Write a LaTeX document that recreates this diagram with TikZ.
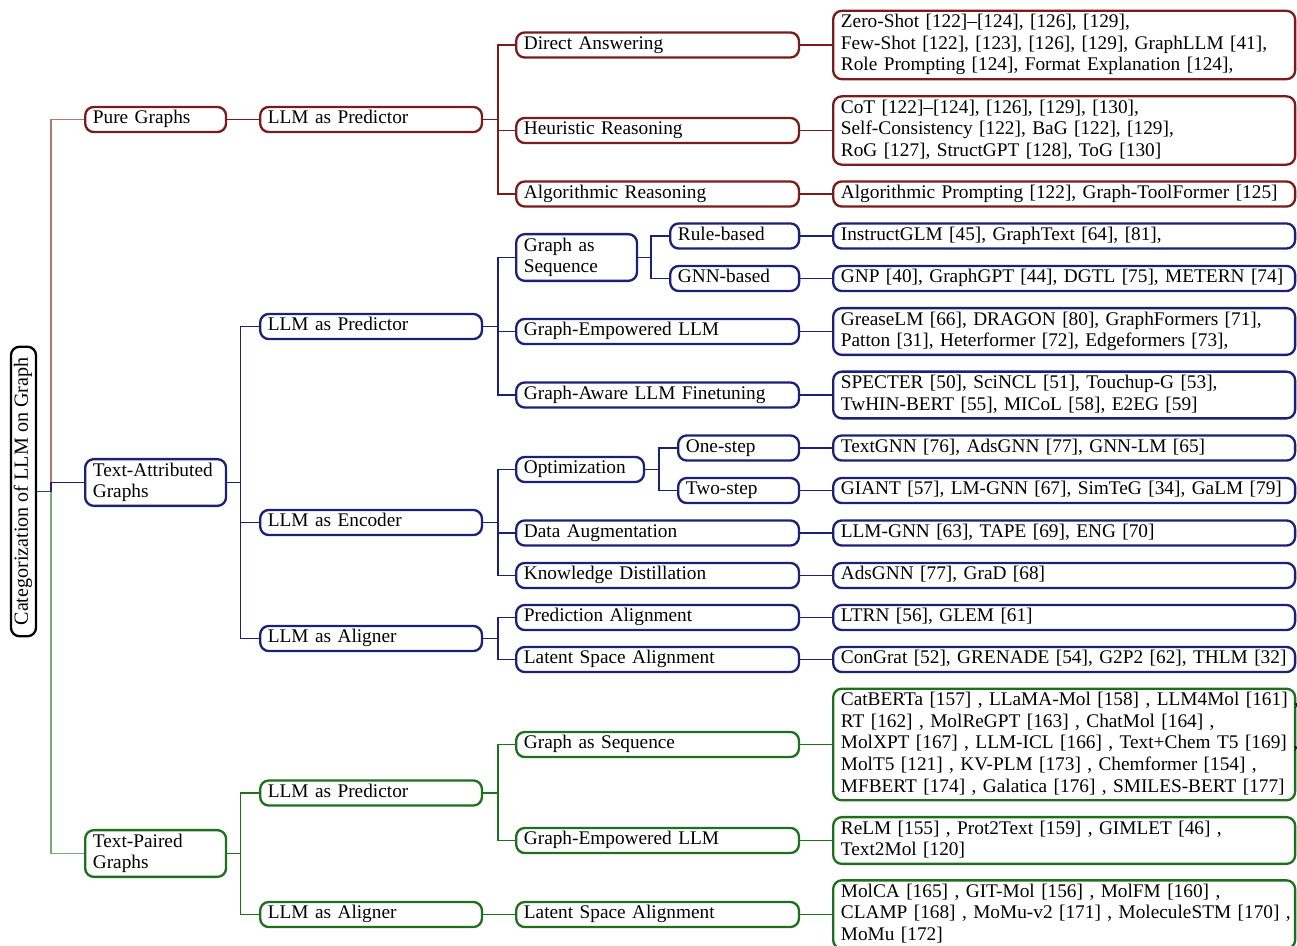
\documentclass[tikz,border=0pt]{standalone}
\usepackage{fontspec}
\setmainfont{Liberation Serif}
\usepackage{xcolor}
\definecolor{cR}{RGB}{122,28,28}
\definecolor{cB}{RGB}{28,32,118}
\definecolor{cG}{RGB}{30,112,30}
\newcommand{\lineX}[1]{\mbox{#1}}
\begin{document}
\begin{tikzpicture}[x=0.518pt, y=-0.518pt,
  bx/.style={draw=#1, rounded corners=4.5pt, line width=1.2pt, anchor=west, align=left,
    inner xsep=4pt, inner ysep=0.9pt, font=\fontsize{10}{11.2}\selectfont,
    execute at begin node=\strut, execute at end node=\strut, fill=white},
  wA/.style={text width=65pt},
  wB/.style={text width=106.9pt},
  wC/.style={text width=138.5pt},
  wGS/.style={text width=54.6pt},
  wOpt/.style={text width=58.2pt},
  wRB/.style={text width=58.8pt},
  wOS/.style={text width=54.6pt},
  wL/.style={text width=231.3pt},
  e/.style={draw=#1, line width=0.75pt},
  el/.style={draw=#1, line width=0.75pt, draw opacity=0.6}]
\useasboundingbox (0,0) rectangle (1297,946);

% root
\node[draw=black, rounded corners=4.5pt, line width=1.2pt, rotate=90, minimum width=150pt,
  minimum height=13pt, inner sep=0.9pt, font=\fontsize{10.4}{11.2}\selectfont] (root) at (23.5,491.5) {\strut Categorization of LLM on Graph};

% level 1
\node[bx=cR, wA] (pg) at (84,119.5) {Pure Graphs};
\node[bx=cB, wA] (tag) at (84,482.5) {\lineX{Text-Attributed}\\Graphs};
\node[bx=cG, wA] (tpg) at (84,853.5) {\lineX{Text-Paired}\\Graphs};

% level 2
\node[bx=cR, wB] (p1) at (259,119.5) {LLM as Predictor};
\node[bx=cB, wB] (p2) at (259,326.5) {LLM as Predictor};
\node[bx=cB, wB] (enc) at (259,522.5) {LLM as Encoder};
\node[bx=cB, wB] (al1) at (259,638.5) {LLM as Aligner};
\node[bx=cG, wB] (p3) at (259,793) {LLM as Predictor};
\node[bx=cG, wB] (al2) at (259,914.5) {LLM as Aligner};

% level 3
\node[bx=cR, wC] (da) at (515,45) {Direct Answering};
\node[bx=cR, wC] (hr) at (515,130.5) {Heuristic Reasoning};
\node[bx=cR, wC] (ar) at (515,194) {Algorithmic Reasoning};
\node[bx=cB, wGS] (gas1) at (515,257.5) {\lineX{Graph as}\\\lineX{Sequence}};
\node[bx=cB, wC] (ge1) at (515,331.5) {Graph-Empowered LLM};
\node[bx=cB, wC] (ga) at (515,395) {\lineX{Graph-Aware LLM Finetuning}};
\node[bx=cB, wOpt] (opt) at (515,469.5) {\lineX{Optimization}};
\node[bx=cB, wC] (dau) at (515,533) {Data Augmentation};
\node[bx=cB, wC] (kd) at (515,575.5) {Knowledge Distillation};
\node[bx=cB, wC] (pa) at (515,617.5) {Prediction Alignment};
\node[bx=cB, wC] (lsa1) at (515,659.5) {Latent Space Alignment};
\node[bx=cG, wC] (gas2) at (515,744.5) {Graph as Sequence};
\node[bx=cG, wC] (ge2) at (515,840.5) {Graph-Empowered LLM};
\node[bx=cG, wC] (lsa2) at (515,914.5) {Latent Space Alignment};

% level 4
\node[bx=cB, wRB] (rb) at (669,236) {\lineX{Rule-based}};
\node[bx=cB, wRB] (gb) at (669,278.5) {\lineX{GNN-based}};
\node[bx=cB, wOS] (os) at (677,448) {\lineX{One-step}};
\node[bx=cB, wOS] (ts) at (677,490.5) {\lineX{Two-step}};

% leaves
\node[bx=cR, wL] (lda) at (832,45) {\lineX{Zero-Shot [122]\textendash[124], [126], [129],}\\\lineX{Few-Shot [122], [123], [126], [129], GraphLLM [41],}\\\lineX{Role Prompting [124], Format Explanation [124],}};
\node[bx=cR, wL] (lhr) at (832,130.5) {\lineX{CoT [122]\textendash[124], [126], [129], [130],}\\\lineX{Self-Consistency [122], BaG [122], [129],}\\\lineX{RoG [127], StructGPT [128], ToG [130]}};
\node[bx=cR, wL] (lar) at (832,194) {\lineX{Algorithmic Prompting [122], Graph-ToolFormer [125]}};
\node[bx=cB, wL] (lrb) at (832,236) {\lineX{InstructGLM [45], GraphText [64], [81],}};
\node[bx=cB, wL] (lgb) at (832,278.5) {\lineX{GNP [40], GraphGPT [44], DGTL [75], METERN [74]}};
\node[bx=cB, wL] (lge1) at (832,331.5) {\lineX{GreaseLM [66], DRAGON [80], GraphFormers [71],}\\\lineX{Patton [31], Heterformer [72], Edgeformers [73],}};
\node[bx=cB, wL] (lga) at (832,395) {\lineX{SPECTER [50], SciNCL [51], Touchup-G [53],}\\\lineX{TwHIN-BERT [55], MICoL [58], E2EG [59]}};
\node[bx=cB, wL] (los) at (832,448) {\lineX{TextGNN [76], AdsGNN [77], GNN-LM [65]}};
\node[bx=cB, wL] (lts) at (832,490.5) {\lineX{GIANT [57], LM-GNN [67], SimTeG [34], GaLM [79]}};
\node[bx=cB, wL] (ldau) at (832,533) {\lineX{LLM-GNN [63], TAPE [69], ENG [70]}};
\node[bx=cB, wL] (lkd) at (832,575.5) {\lineX{AdsGNN [77], GraD [68]}};
\node[bx=cB, wL] (lpa) at (832,617.5) {\lineX{LTRN [56], GLEM [61]}};
\node[bx=cB, wL] (llsa1) at (832,659.5) {\lineX{ConGrat [52], GRENADE [54], G2P2 [62], THLM [32]}};
\node[bx=cG, wL] (lgas2) at (832,744.5) {\lineX{CatBERTa [157] , LLaMA-Mol [158] , LLM4Mol [161] ,}\\\lineX{RT [162] , MolReGPT [163] , ChatMol [164] ,}\\\lineX{MolXPT [167] , LLM-ICL [166] , Text+Chem T5 [169] ,}\\\lineX{MolT5 [121] , KV-PLM [173] , Chemformer [154] ,}\\\lineX{MFBERT [174] , Galatica [176] , SMILES-BERT [177]}};
\node[bx=cG, wL] (lge2) at (832,840.5) {\lineX{ReLM [155] , Prot2Text [159] , GIMLET [46] ,}\\\lineX{Text2Mol [120]}};
\node[bx=cG, wL] (llsa2) at (832,914.5) {\lineX{MolCA [165] , GIT-Mol [156] , MolFM [160] ,}\\\lineX{CLAMP [168] , MoMu-v2 [171] , MoleculeSTM [170] ,}\\\lineX{MoMu [172]}};

% edges root
\draw[el=cR] (root.south) -- ++(14,0) |- (pg.west);
\draw[e=cB] (root.south) -- ++(14,0) |- (tag.west);
\draw[el=cG] (root.south) -- ++(14,0) |- (tpg.west);

% level 1 -> 2
\draw[e=cR] (pg.east) -- (p1.west);
\draw[e=cB] (tag.east) -- ++(13,0) |- (p2.west);
\draw[e=cB] (tag.east) -- ++(13,0) |- (enc.west);
\draw[e=cB] (tag.east) -- ++(13,0) |- (al1.west);
\draw[e=cG] (tpg.east) -- ++(13,0) |- (p3.west);
\draw[e=cG] (tpg.east) -- ++(13,0) |- (al2.west);

% level 2 -> 3
\draw[e=cR] (p1.east) -- ++(15,0) |- (da.west);
\draw[e=cR] (p1.east) -- ++(15,0) |- (hr.west);
\draw[e=cR] (p1.east) -- ++(15,0) |- (ar.west);
\draw[e=cB] (p2.east) -- ++(15,0) |- (gas1.west);
\draw[e=cB] (p2.east) -- ++(15,0) |- (ge1.west);
\draw[e=cB] (p2.east) -- ++(15,0) |- (ga.west);
\draw[e=cB] (enc.east) -- ++(15,0) |- (opt.west);
\draw[e=cB] (enc.east) -- ++(15,0) |- (dau.west);
\draw[e=cB] (enc.east) -- ++(15,0) |- (kd.west);
\draw[e=cB] (al1.east) -- ++(15,0) |- (pa.west);
\draw[e=cB] (al1.east) -- ++(15,0) |- (lsa1.west);
\draw[e=cG] (p3.east) -- ++(15,0) |- (gas2.west);
\draw[e=cG] (p3.east) -- ++(15,0) |- (ge2.west);
\draw[e=cG] (al2.east) -- (lsa2.west);

% level 3 -> 4
\draw[e=cB] (gas1.east) -- ++(13,0) |- (rb.west);
\draw[e=cB] (gas1.east) -- ++(13,0) |- (gb.west);
\draw[e=cB] (opt.east) -- ++(14,0) |- (os.west);
\draw[e=cB] (opt.east) -- ++(14,0) |- (ts.west);

% to leaves
\draw[e=cR] (da.east) -- (lda.west);
\draw[e=cR] (hr.east) -- (lhr.west);
\draw[e=cR] (ar.east) -- (lar.west);
\draw[e=cB] (rb.east) -- (lrb.west);
\draw[e=cB] (gb.east) -- (lgb.west);
\draw[e=cB] (ge1.east) -- (lge1.west);
\draw[e=cB] (ga.east) -- (lga.west);
\draw[e=cB] (os.east) -- (los.west);
\draw[e=cB] (ts.east) -- (lts.west);
\draw[e=cB] (dau.east) -- (ldau.west);
\draw[e=cB] (kd.east) -- (lkd.west);
\draw[e=cB] (pa.east) -- (lpa.west);
\draw[e=cB] (lsa1.east) -- (llsa1.west);
\draw[e=cG] (gas2.east) -- (lgas2.west);
\draw[e=cG] (ge2.east) -- (lge2.west);
\draw[e=cG] (lsa2.east) -- (llsa2.west);
\end{tikzpicture}
\end{document}
